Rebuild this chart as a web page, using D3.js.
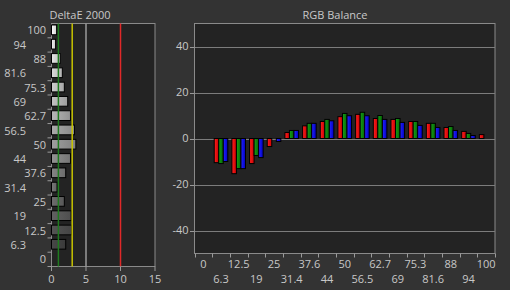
<!DOCTYPE html>
<html>
<head>
<meta charset="utf-8">
<script src="https://cdn.jsdelivr.net/npm/d3@7/dist/d3.min.js"></script>
<style>
  body { margin: 0; background: #333333; }
  svg text { font-family: "Open Sans", sans-serif; font-size: 11px; fill: #c8c8c8; }
</style>
</head>
<body>
<svg id="chart" width="510" height="290"></svg>
<script>
// gray levels (%) measured
var levels = ["0", "6.3", "12.5", "19", "25", "31.4", "37.6", "44", "50", "56.5", "62.7", "69", "75.3", "81.6", "88", "94", "100"];

// DeltaE 2000 per level (null = no bar)
var deltaE = [null, 2.06, 2.94, 2.84, 1.86, 0.8, 2.06, 2.75, 3.53, 3.33, 2.75, 2.35, 1.86, 1.57, 1.27, 0.59, 0.74];
var deTicks = [0, 5, 10, 15];
var refLines = [1, 3, 5, 10];
var refColors = ["#1f7a1f", "#c8c400", "#9a9a9a", "#e02828"];

// RGB balance per level
var redVals   = [0, -10.5, -15.3, -10.9, -3.5, 2.6, 5.5, 7.4, 9.5, 10.5, 8.7, 8.3, 7.4, 6.6, 4.8, 3.1, 1.7];
var greenVals = [0, -10.9, -13.1, -7.4, 0, 3.5, 6.6, 8.3, 10.9, 11.4, 10.0, 8.7, 7.4, 6.6, 5.2, 2.2, 0];
var blueVals  = [0, -10.0, -13.1, -8.3, -1.3, 3.5, 6.6, 7.7, 9.9, 9.9, 8.3, 7.0, 5.7, 4.8, 3.5, 1.3, 0];
var balTicks = [-40, -20, 0, 20, 40];

var svg = d3.select("#chart");
var defs = svg.append("defs");

svg.append("rect").attr("width", 510).attr("height", 290).attr("fill", "#333333");

// ---------- DeltaE 2000 ----------
var dx = d3.scaleLinear().domain([0, 15]).range([51.5, 155]);
var dy = d3.scaleBand().domain(levels.slice().reverse()).range([23.5, 266.5]);

svg.append("rect")
  .attr("x", dx(0)).attr("y", 23.5)
  .attr("width", dx(15) - dx(0)).attr("height", 243)
  .attr("fill", "#232323")
  .attr("stroke", "#8a8a8a");

svg.append("text").attr("x", 80).attr("y", 15).attr("dy", "0.35em")
  .attr("text-anchor", "middle").text("DeltaE 2000");

// gradient per gray level
levels.forEach(function(l, i) {
  var light = d3.interpolateRgb("#3c3c3c", "#ffffff")(+l / 100);
  var g = defs.append("linearGradient").attr("id", "gl" + i)
    .attr("x1", 0).attr("x2", 1).attr("y1", 0).attr("y2", 0);
  g.append("stop").attr("offset", "0%").attr("stop-color", light);
  g.append("stop").attr("offset", "100%").attr("stop-color", d3.rgb(light).darker(0.6));
});

svg.selectAll(".debar")
  .data(deltaE.map(function(v, i) { return {v: v, i: i}; }).filter(function(d) { return d.v !== null; }))
  .enter().append("rect")
  .attr("x", dx(0))
  .attr("y", function(d) { return dy(levels[d.i]) + 1.5; })
  .attr("width", function(d) { return dx(d.v) - dx(0); })
  .attr("height", dy.bandwidth() * 0.68)
  .attr("fill", function(d) { return "url(#gl" + d.i + ")"; })
  .attr("stroke", "#000")
  .attr("stroke-width", 1);

svg.selectAll(".ref")
  .data(refLines).enter().append("line")
  .attr("x1", function(d) { return dx(d); }).attr("x2", function(d) { return dx(d); })
  .attr("y1", 23.5).attr("y2", 266.5)
  .attr("stroke", function(d, i) { return refColors[i]; })
  .attr("stroke-width", 1.5);

// left axis ticks at band edges
svg.selectAll(".ltick")
  .data(levels).enter().append("line")
  .attr("x1", dx(0) - 4).attr("x2", dx(0))
  .attr("y1", function(d) { return dy(d) + dy.bandwidth(); })
  .attr("y2", function(d) { return dy(d) + dy.bandwidth(); })
  .attr("stroke", "#9a9a9a");

svg.selectAll(".llab")
  .data(levels).enter().append("text")
  .attr("x", function(d, i) { return i % 2 === 0 ? 46 : 26; })
  .attr("y", function(d) { return dy(d) + dy.bandwidth() / 2; })
  .attr("dy", "0.35em")
  .attr("text-anchor", "end")
  .text(function(d) { return d; });

svg.selectAll(".btick")
  .data(deTicks).enter().append("line")
  .attr("x1", function(d) { return dx(d); }).attr("x2", function(d) { return dx(d); })
  .attr("y1", 266.5).attr("y2", 271)
  .attr("stroke", "#9a9a9a");

svg.selectAll(".blab")
  .data(deTicks).enter().append("text")
  .attr("x", function(d) { return dx(d); })
  .attr("y", 279).attr("dy", "0.35em")
  .attr("text-anchor", "middle")
  .text(function(d) { return d; });

// ---------- RGB Balance ----------
var rx = d3.scaleBand().domain(levels).range([194.5, 495]);
var ry = d3.scaleLinear().domain([-50, 50]).range([253.5, 23.5]);
var sub = d3.scaleBand().domain(["r", "g", "b"]).range([0, rx.bandwidth()]).paddingOuter(0.45);

svg.append("rect")
  .attr("x", 194.5).attr("y", 23.5)
  .attr("width", 495 - 194.5).attr("height", 230)
  .attr("fill", "#232323")
  .attr("stroke", "#8a8a8a");

svg.append("text").attr("x", 335).attr("y", 15).attr("dy", "0.35em")
  .attr("text-anchor", "middle").text("RGB Balance");

svg.selectAll(".grid")
  .data(balTicks).enter().append("line")
  .attr("x1", 194.5).attr("x2", 495)
  .attr("y1", function(d) { return Math.round(ry(d)) + 0.5; })
  .attr("y2", function(d) { return Math.round(ry(d)) + 0.5; })
  .attr("stroke", "#7c7c7c");

svg.selectAll(".ytick")
  .data(balTicks).enter().append("line")
  .attr("x1", 190).attr("x2", 194.5)
  .attr("y1", function(d) { return Math.round(ry(d)) + 0.5; })
  .attr("y2", function(d) { return Math.round(ry(d)) + 0.5; })
  .attr("stroke", "#9a9a9a");

svg.selectAll(".ylab")
  .data(balTicks).enter().append("text")
  .attr("x", 188.5)
  .attr("y", function(d) { return ry(d); })
  .attr("dy", "0.35em")
  .attr("text-anchor", "end")
  .text(function(d) { return d; });

var series = [
  {key: "r", vals: redVals,   c0: "#ff2020", c1: "#c80000"},
  {key: "g", vals: greenVals, c0: "#16a016", c1: "#066806"},
  {key: "b", vals: blueVals,  c0: "#2424ff", c1: "#0000c0"}
];
series.forEach(function(s) {
  var g = defs.append("linearGradient").attr("id", "gs" + s.key)
    .attr("x1", 0).attr("x2", 1).attr("y1", 0).attr("y2", 0);
  g.append("stop").attr("offset", "0%").attr("stop-color", s.c0);
  g.append("stop").attr("offset", "100%").attr("stop-color", s.c1);
});

var barData = [];
levels.forEach(function(l, i) {
  series.forEach(function(s) {
    if (s.vals[i] !== null) barData.push({level: l, key: s.key, v: s.vals[i]});
  });
});

svg.selectAll(".rgbbar")
  .data(barData).enter().append("rect")
  .attr("x", function(d) { return rx(d.level) + sub(d.key); })
  .attr("y", function(d) { return Math.min(ry(d.v), ry(0)); })
  .attr("width", sub.bandwidth())
  .attr("height", function(d) { return Math.abs(ry(d.v) - ry(0)); })
  .attr("fill", function(d) { return "url(#gs" + d.key + ")"; })
  .attr("stroke", "#000")
  .attr("stroke-width", 1);

// bottom ticks at band edges
var edges = levels.map(function(l) { return rx(l); }).concat([rx.range()[1]]);
svg.selectAll(".xtick")
  .data(edges).enter().append("line")
  .attr("x1", function(d) { return Math.round(d) + 0.5; })
  .attr("x2", function(d) { return Math.round(d) + 0.5; })
  .attr("y1", 253.5).attr("y2", 257.5)
  .attr("stroke", "#9a9a9a");

svg.selectAll(".xlab")
  .data(levels).enter().append("text")
  .attr("x", function(d) { return rx(d) + rx.bandwidth() / 2; })
  .attr("y", function(d, i) { return i % 2 === 0 ? 264 : 279.5; })
  .attr("dy", "0.35em")
  .attr("text-anchor", "middle")
  .text(function(d) { return d; });
</script>
</body>
</html>
